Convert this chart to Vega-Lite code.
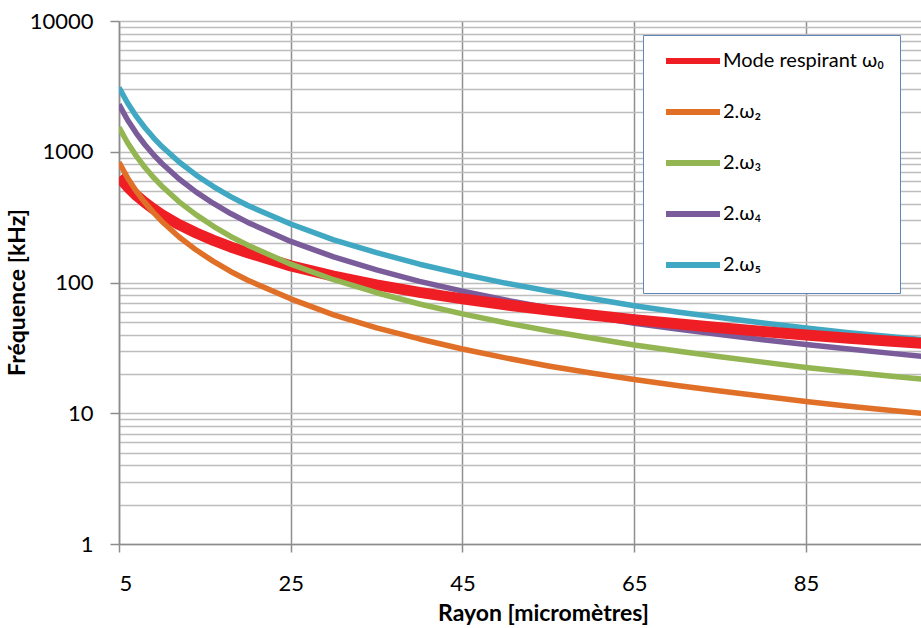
{
  "$schema": "https://vega.github.io/schema/vega-lite/v6.json",
  "width": 802,
  "height": 523,
  "autosize": {"type": "none"},
  "padding": {"left": 119, "top": 21, "right": 0, "bottom": 84},
  "background": "white",
  "config": {
    "font": "Lato",
    "view": {"stroke": null},
    "axis": {"labelFont": "Lato", "titleFont": "Lato", "labelColor": "#000000", "titleColor": "#000000"}
  },
  "data": {
    "values": [
      {"serie": "2.ω₄", "r": 5, "f": 2300}, {"serie": "2.ω₄", "r": 6, "f": 1750}, {"serie": "2.ω₄", "r": 7, "f": 1389}, {"serie": "2.ω₄", "r": 8, "f": 1136}, {"serie": "2.ω₄", "r": 9, "f": 952}, {"serie": "2.ω₄", "r": 10, "f": 813}, {"serie": "2.ω₄", "r": 12, "f": 619}, {"serie": "2.ω₄", "r": 14, "f": 491}, {"serie": "2.ω₄", "r": 16, "f": 402}, {"serie": "2.ω₄", "r": 18, "f": 337}, {"serie": "2.ω₄", "r": 20, "f": 288}, {"serie": "2.ω₄", "r": 25, "f": 206}, {"serie": "2.ω₄", "r": 30, "f": 157}, {"serie": "2.ω₄", "r": 35, "f": 125}, {"serie": "2.ω₄", "r": 40, "f": 102}, {"serie": "2.ω₄", "r": 45, "f": 86}, {"serie": "2.ω₄", "r": 50, "f": 73.5}, {"serie": "2.ω₄", "r": 55, "f": 63.8}, {"serie": "2.ω₄", "r": 60, "f": 55.5}, {"serie": "2.ω₄", "r": 65, "f": 48.8}, {"serie": "2.ω₄", "r": 70, "f": 44}, {"serie": "2.ω₄", "r": 75, "f": 40}, {"serie": "2.ω₄", "r": 80, "f": 36.5}, {"serie": "2.ω₄", "r": 85, "f": 33.6}, {"serie": "2.ω₄", "r": 90, "f": 31}, {"serie": "2.ω₄", "r": 95, "f": 28.7}, {"serie": "2.ω₄", "r": 100, "f": 26.7},
      {"serie": "2.ω₅", "r": 5, "f": 3100}, {"serie": "2.ω₅", "r": 6, "f": 2358}, {"serie": "2.ω₅", "r": 7, "f": 1871}, {"serie": "2.ω₅", "r": 8, "f": 1532}, {"serie": "2.ω₅", "r": 9, "f": 1284}, {"serie": "2.ω₅", "r": 10, "f": 1096}, {"serie": "2.ω₅", "r": 12, "f": 834}, {"serie": "2.ω₅", "r": 14, "f": 662}, {"serie": "2.ω₅", "r": 16, "f": 542}, {"serie": "2.ω₅", "r": 18, "f": 454}, {"serie": "2.ω₅", "r": 20, "f": 388}, {"serie": "2.ω₅", "r": 25, "f": 280}, {"serie": "2.ω₅", "r": 30, "f": 212}, {"serie": "2.ω₅", "r": 35, "f": 169}, {"serie": "2.ω₅", "r": 40, "f": 138}, {"serie": "2.ω₅", "r": 45, "f": 116}, {"serie": "2.ω₅", "r": 50, "f": 99}, {"serie": "2.ω₅", "r": 55, "f": 86}, {"serie": "2.ω₅", "r": 60, "f": 75.5}, {"serie": "2.ω₅", "r": 65, "f": 66.5}, {"serie": "2.ω₅", "r": 70, "f": 59.5}, {"serie": "2.ω₅", "r": 75, "f": 54}, {"serie": "2.ω₅", "r": 80, "f": 49}, {"serie": "2.ω₅", "r": 85, "f": 44.8}, {"serie": "2.ω₅", "r": 90, "f": 41.3}, {"serie": "2.ω₅", "r": 95, "f": 38.4}, {"serie": "2.ω₅", "r": 100, "f": 35.8},
      {"serie": "Mode respirant ω₀", "r": 5, "f": 640}, {"serie": "Mode respirant ω₀", "r": 6, "f": 540}, {"serie": "Mode respirant ω₀", "r": 7, "f": 465}, {"serie": "Mode respirant ω₀", "r": 8, "f": 410}, {"serie": "Mode respirant ω₀", "r": 9, "f": 366}, {"serie": "Mode respirant ω₀", "r": 10, "f": 330}, {"serie": "Mode respirant ω₀", "r": 12, "f": 277}, {"serie": "Mode respirant ω₀", "r": 14, "f": 239}, {"serie": "Mode respirant ω₀", "r": 16, "f": 210}, {"serie": "Mode respirant ω₀", "r": 18, "f": 187}, {"serie": "Mode respirant ω₀", "r": 20, "f": 169}, {"serie": "Mode respirant ω₀", "r": 25, "f": 134}, {"serie": "Mode respirant ω₀", "r": 30, "f": 112}, {"serie": "Mode respirant ω₀", "r": 35, "f": 96}, {"serie": "Mode respirant ω₀", "r": 40, "f": 84}, {"serie": "Mode respirant ω₀", "r": 45, "f": 75}, {"serie": "Mode respirant ω₀", "r": 50, "f": 67.5}, {"serie": "Mode respirant ω₀", "r": 55, "f": 61.5}, {"serie": "Mode respirant ω₀", "r": 60, "f": 56.5}, {"serie": "Mode respirant ω₀", "r": 65, "f": 52}, {"serie": "Mode respirant ω₀", "r": 70, "f": 48.3}, {"serie": "Mode respirant ω₀", "r": 75, "f": 45}, {"serie": "Mode respirant ω₀", "r": 80, "f": 42.2}, {"serie": "Mode respirant ω₀", "r": 85, "f": 39.7}, {"serie": "Mode respirant ω₀", "r": 90, "f": 37.5}, {"serie": "Mode respirant ω₀", "r": 95, "f": 35.5}, {"serie": "Mode respirant ω₀", "r": 100, "f": 33.7},
      {"serie": "2.ω₂", "r": 5, "f": 830}, {"serie": "2.ω₂", "r": 6, "f": 631}, {"serie": "2.ω₂", "r": 7, "f": 501}, {"serie": "2.ω₂", "r": 8, "f": 410}, {"serie": "2.ω₂", "r": 9, "f": 344}, {"serie": "2.ω₂", "r": 10, "f": 293}, {"serie": "2.ω₂", "r": 12, "f": 223}, {"serie": "2.ω₂", "r": 14, "f": 177}, {"serie": "2.ω₂", "r": 16, "f": 145}, {"serie": "2.ω₂", "r": 18, "f": 121.5}, {"serie": "2.ω₂", "r": 20, "f": 104}, {"serie": "2.ω₂", "r": 25, "f": 75}, {"serie": "2.ω₂", "r": 30, "f": 56.5}, {"serie": "2.ω₂", "r": 35, "f": 45}, {"serie": "2.ω₂", "r": 40, "f": 37}, {"serie": "2.ω₂", "r": 45, "f": 31}, {"serie": "2.ω₂", "r": 50, "f": 26.5}, {"serie": "2.ω₂", "r": 55, "f": 23}, {"serie": "2.ω₂", "r": 60, "f": 20.3}, {"serie": "2.ω₂", "r": 65, "f": 18.1}, {"serie": "2.ω₂", "r": 70, "f": 16.3}, {"serie": "2.ω₂", "r": 75, "f": 14.8}, {"serie": "2.ω₂", "r": 80, "f": 13.5}, {"serie": "2.ω₂", "r": 85, "f": 12.3}, {"serie": "2.ω₂", "r": 90, "f": 11.3}, {"serie": "2.ω₂", "r": 95, "f": 10.5}, {"serie": "2.ω₂", "r": 100, "f": 9.8},
      {"serie": "2.ω₃", "r": 5, "f": 1540}, {"serie": "2.ω₃", "r": 6, "f": 1171}, {"serie": "2.ω₃", "r": 7, "f": 930}, {"serie": "2.ω₃", "r": 8, "f": 761}, {"serie": "2.ω₃", "r": 9, "f": 638}, {"serie": "2.ω₃", "r": 10, "f": 545}, {"serie": "2.ω₃", "r": 12, "f": 414}, {"serie": "2.ω₃", "r": 14, "f": 329}, {"serie": "2.ω₃", "r": 16, "f": 269}, {"serie": "2.ω₃", "r": 18, "f": 225}, {"serie": "2.ω₃", "r": 20, "f": 193}, {"serie": "2.ω₃", "r": 25, "f": 138}, {"serie": "2.ω₃", "r": 30, "f": 105}, {"serie": "2.ω₃", "r": 35, "f": 83.5}, {"serie": "2.ω₃", "r": 40, "f": 68.5}, {"serie": "2.ω₃", "r": 45, "f": 57.5}, {"serie": "2.ω₃", "r": 50, "f": 49.2}, {"serie": "2.ω₃", "r": 55, "f": 42.7}, {"serie": "2.ω₃", "r": 60, "f": 37.6}, {"serie": "2.ω₃", "r": 65, "f": 33.3}, {"serie": "2.ω₃", "r": 70, "f": 29.9}, {"serie": "2.ω₃", "r": 75, "f": 27}, {"serie": "2.ω₃", "r": 80, "f": 24.6}, {"serie": "2.ω₃", "r": 85, "f": 22.4}, {"serie": "2.ω₃", "r": 90, "f": 20.7}, {"serie": "2.ω₃", "r": 95, "f": 19.2}, {"serie": "2.ω₃", "r": 100, "f": 17.9}
    ]
  },
  "encoding": {
    "x": {
      "field": "r", "type": "quantitative",
      "scale": {"domain": [5, 98.4], "nice": false, "zero": false},
      "axis": {
        "values": [5, 25, 45, 65, 85],
        "title": "Rayon [micromètres]",
        "titleFontSize": 23, "titleFontWeight": "bold", "titlePadding": 8,
        "titleX": 424,
        "labelFontSize": 22, "labelPadding": 21,
        "tickSize": 8, "tickColor": "#8C8C8C", "tickWidth": 1.5,
        "domainColor": "#8C8C8C", "domainWidth": 1.5,
        "grid": true, "gridColor": "#8F8F8F", "gridWidth": 1.5
      }
    },
    "y": {
      "field": "f", "type": "quantitative",
      "scale": {"type": "log", "domain": [1, 10000], "nice": false},
      "axis": {
        "values": [1,2,3,4,5,6,7,8,9,10,20,30,40,50,60,70,80,90,100,200,300,400,500,600,700,800,900,1000,2000,3000,4000,5000,6000,7000,8000,9000,10000],
        "format": "d",
        "labelExpr": "indexof([1,10,100,1000,10000], datum.value) >= 0 ? datum.label : ''",
        "title": "Fréquence [kHz]",
        "titleFontSize": 23, "titleFontWeight": "bold", "titlePadding": 0,
        "titleY": 271,
        "labelFontSize": 22, "labelPadding": 17,
        "tickSize": 9, "tickColor": "#8C8C8C", "tickWidth": 1.5,
        "tickOpacity": {"condition": {"test": "indexof([1,10,100,1000,10000], datum.value) >= 0", "value": 1}, "value": 0},
        "domainColor": "#8C8C8C", "domainWidth": 1.5,
        "grid": true, "gridColor": "#BDBDBD", "gridWidth": 1.5
      }
    },
    "stroke": {
      "field": "serie", "type": "nominal",
      "scale": {
        "domain": ["Mode respirant ω₀", "2.ω₂", "2.ω₃", "2.ω₄", "2.ω₅"],
        "range": ["#EE1E24", "#E07028", "#93B552", "#7A5C9A", "#40A8C2"]
      },
      "legend": {
        "title": null,
        "orient": "none", "legendX": 524, "legendY": 14,
        "symbolType": "M-5.4,0H5.4",
        "symbolSize": 100,
        "symbolStrokeWidth": 6,
        "symbolOffset": 24,
        "labelOffset": 20,
        "labelLimit": 400,
        "labelExpr": "datum.label + '\u2003'",
        "labelFontSize": 20, "labelFont": "Lato", "labelColor": "#000000",
        "rowPadding": 27,
        "padding": 16,
        "fillColor": "#FFFFFF",
        "strokeColor": "#5F86BC"
      }
    }
  },
  "layer": [
    {
      "transform": [{"filter": {"field": "serie", "oneOf": ["2.ω₄", "2.ω₅"]}}],
      "mark": {"type": "line", "clip": true, "strokeJoin": "round", "strokeWidth": 5.5}
    },
    {
      "transform": [{"filter": {"field": "serie", "equal": "Mode respirant ω₀"}}],
      "mark": {"type": "line", "clip": true, "strokeJoin": "round", "strokeWidth": 11}
    },
    {
      "transform": [{"filter": {"field": "serie", "oneOf": ["2.ω₂", "2.ω₃"]}}],
      "mark": {"type": "line", "clip": true, "strokeJoin": "round", "strokeWidth": 5.5}
    }
  ]
}
